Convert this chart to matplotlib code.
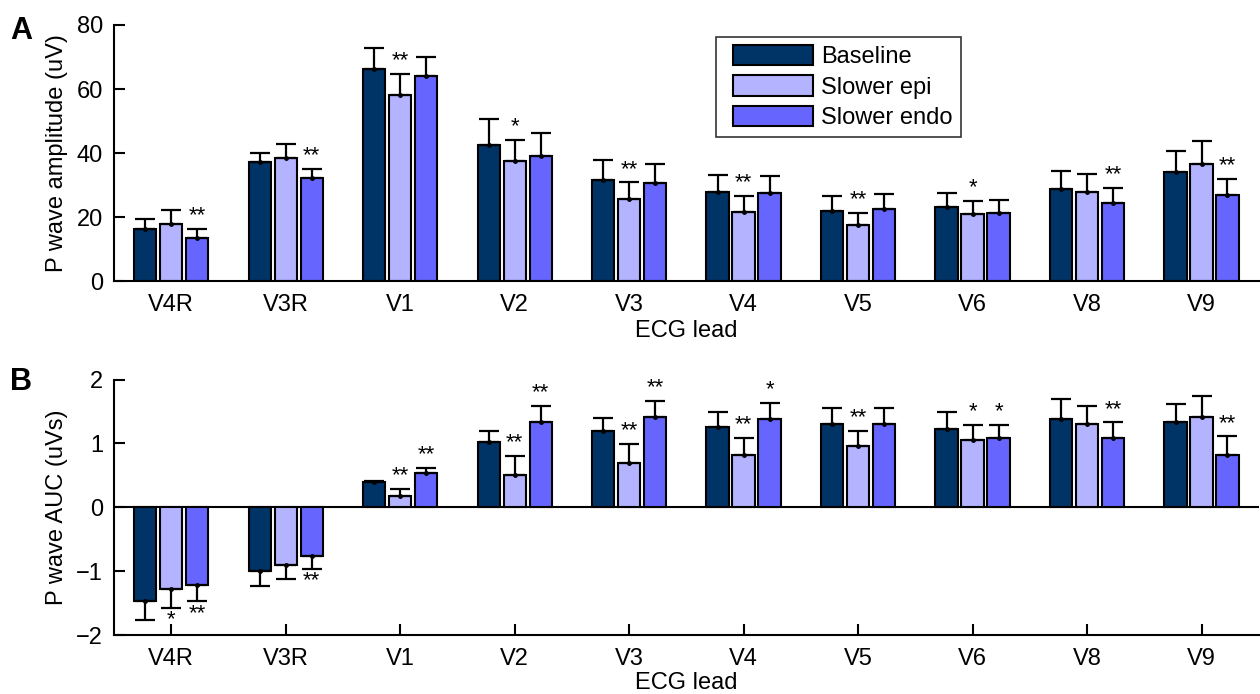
import numpy as np
import matplotlib
matplotlib.use('Agg')
import matplotlib.pyplot as plt
import matplotlib.patches as mpatches
from matplotlib.legend_handler import HandlerPatch

plt.rcParams['font.family'] = ['Liberation Sans', 'DejaVu Sans']

# ECG leads on the x axis
leads = ['V4R', 'V3R', 'V1', 'V2', 'V3', 'V4', 'V5', 'V6', 'V8', 'V9']
groups = ['Baseline', 'Slower epi', 'Slower endo']
colors = ['#003366', '#B3B3FF', '#6666FF']

# P wave amplitude (uV), mean and upper error
amp_base = [16.2, 37.2, 66.3, 42.4, 31.7, 27.7, 22.0, 23.0, 28.8, 34.2]
amp_base_err = [3.1, 2.8, 6.5, 8.1, 6.1, 5.5, 4.6, 4.5, 5.7, 6.4]
amp_epi = [17.9, 38.5, 58.1, 37.5, 25.5, 21.7, 17.5, 20.8, 27.7, 36.5]
amp_epi_err = [4.3, 4.2, 6.7, 6.6, 5.3, 4.9, 3.8, 4.3, 5.6, 7.3]
amp_endo = [13.5, 32.2, 64.2, 39.2, 30.7, 27.4, 22.5, 21.3, 24.5, 26.8]
amp_endo_err = [2.8, 2.8, 5.7, 7.1, 5.9, 5.4, 4.7, 3.9, 4.6, 5.1]
amp_base_sig = [''] * 10
amp_epi_sig = ['', '', '**', '*', '**', '**', '**', '*', '', '']
amp_endo_sig = ['**', '**', '', '', '', '', '', '', '**', '**']

# P wave AUC (uVs)
auc_base = [-1.46, -0.99, 0.40, 1.03, 1.19, 1.26, 1.30, 1.23, 1.38, 1.33]
auc_base_err = [0.31, 0.25, 0.01, 0.17, 0.21, 0.24, 0.25, 0.27, 0.31, 0.29]
auc_epi = [-1.28, -0.90, 0.17, 0.51, 0.70, 0.82, 0.96, 1.06, 1.31, 1.42]
auc_epi_err = [0.29, 0.22, 0.12, 0.30, 0.29, 0.27, 0.24, 0.23, 0.28, 0.33]
auc_endo = [-1.21, -0.77, 0.54, 1.34, 1.41, 1.39, 1.31, 1.08, 1.08, 0.82]
auc_endo_err = [0.26, 0.19, 0.08, 0.25, 0.26, 0.25, 0.24, 0.21, 0.25, 0.29]
auc_base_sig = [''] * 10
auc_epi_sig = ['*', '', '**', '**', '**', '**', '**', '*', '', '']
auc_endo_sig = ['**', '**', '**', '**', '**', '*', '', '*', '**', '**']

FS = 17
width = 0.195
offsets = [-0.227, 0.0, 0.227]
x = np.arange(1, len(leads) + 1)


def draw_panel(ax, means, errs, sigs, ylim, yticks, ticklen_x):
    handles = []
    for k in range(3):
        m = np.array(means[k])
        e = np.array(errs[k])
        pos = x + offsets[k]
        h = ax.bar(pos, m, width, color=colors[k], edgecolor='black',
                   linewidth=1.5, zorder=2, label=groups[k])
        handles.append(h.patches[0])
        # one-sided error bars, away from zero
        lower = np.where(m < 0, e, 0)
        upper = np.where(m >= 0, e, 0)
        ax.errorbar(pos, m, yerr=[lower, upper], fmt='o', ms=2.5,
                    color='black', ecolor='black', elinewidth=1.6,
                    capsize=7.5, capthick=1.6, zorder=3)
        for p, mv, ev, s in zip(pos, m, e, sigs[k]):
            if not s:
                continue
            if mv >= 0:
                ax.annotate(s, (p, mv + ev), xytext=(0, 5.5),
                            textcoords='offset points', ha='center',
                            va='baseline', fontsize=16)
            else:
                ax.annotate(s, (p, mv - ev), xytext=(0, -13),
                            textcoords='offset points', ha='center',
                            va='baseline', fontsize=16)
    ax.set_xlim(0.5, 10.5)
    ax.set_ylim(*ylim)
    ax.set_yticks(yticks)
    ax.set_xticks(x)
    ax.set_xticklabels(leads)
    ax.spines['top'].set_visible(False)
    ax.spines['right'].set_visible(False)
    ax.spines['left'].set_linewidth(1.5)
    ax.spines['bottom'].set_linewidth(1.5)
    ax.tick_params(axis='y', direction='in', length=8, width=1.5,
                   labelsize=FS, pad=8)
    ax.tick_params(axis='x', direction='in', length=ticklen_x, width=1.5,
                   labelsize=FS, pad=9)
    return handles


def legend_box(legend, orig_handle, xdescent, ydescent, width, height,
               fontsize):
    # leave a little gap on the left of each swatch
    shift = 0.35 * fontsize
    return mpatches.Rectangle((-xdescent + shift, -ydescent),
                              width - shift, height)


fig = plt.figure(figsize=(12.6, 6.94), dpi=100)
ax1 = fig.add_axes([0.0905, 0.595, 0.9085, 0.369])
ax2 = fig.add_axes([0.0905, 0.085, 0.9085, 0.368])

hs = draw_panel(ax1, [amp_base, amp_epi, amp_endo],
                [amp_base_err, amp_epi_err, amp_endo_err],
                [amp_base_sig, amp_epi_sig, amp_endo_sig],
                (0, 80), [0, 20, 40, 60, 80], 0)
ax1.set_ylabel('P wave amplitude (uV)', fontsize=FS, labelpad=6)
ax1.set_xlabel('ECG lead', fontsize=FS, labelpad=3)

draw_panel(ax2, [auc_base, auc_epi, auc_endo],
           [auc_base_err, auc_epi_err, auc_endo_err],
           [auc_base_sig, auc_epi_sig, auc_endo_sig],
           (-2, 2), [-2, -1, 0, 1, 2], 8)
ax2.axhline(0, color='black', linewidth=1.5, zorder=1)
ax2.set_yticklabels(['\u22122', '\u22121', '0', '1', '2'])
ax2.set_ylabel('P wave AUC (uVs)', fontsize=FS, labelpad=6)
ax2.set_xlabel('ECG lead', fontsize=FS, labelpad=2)

leg = ax1.legend(hs, groups, loc='upper left', bbox_to_anchor=(0.526, 0.954),
                 fontsize=FS, frameon=True, fancybox=False, edgecolor='black',
                 handlelength=3.75, handleheight=0.95, labelspacing=0.3,
                 handletextpad=0.35, borderpad=0.35, borderaxespad=0,
                 handler_map={mpatches.Rectangle: HandlerPatch(patch_func=legend_box)})
leg.get_frame().set_linewidth(1.2)

fig.text(0.008, 0.955, 'A', fontsize=22, fontweight='bold', va='center')
fig.text(0.008, 0.45, 'B', fontsize=22, fontweight='bold', va='center')

fig.savefig('out.png', dpi=100)
